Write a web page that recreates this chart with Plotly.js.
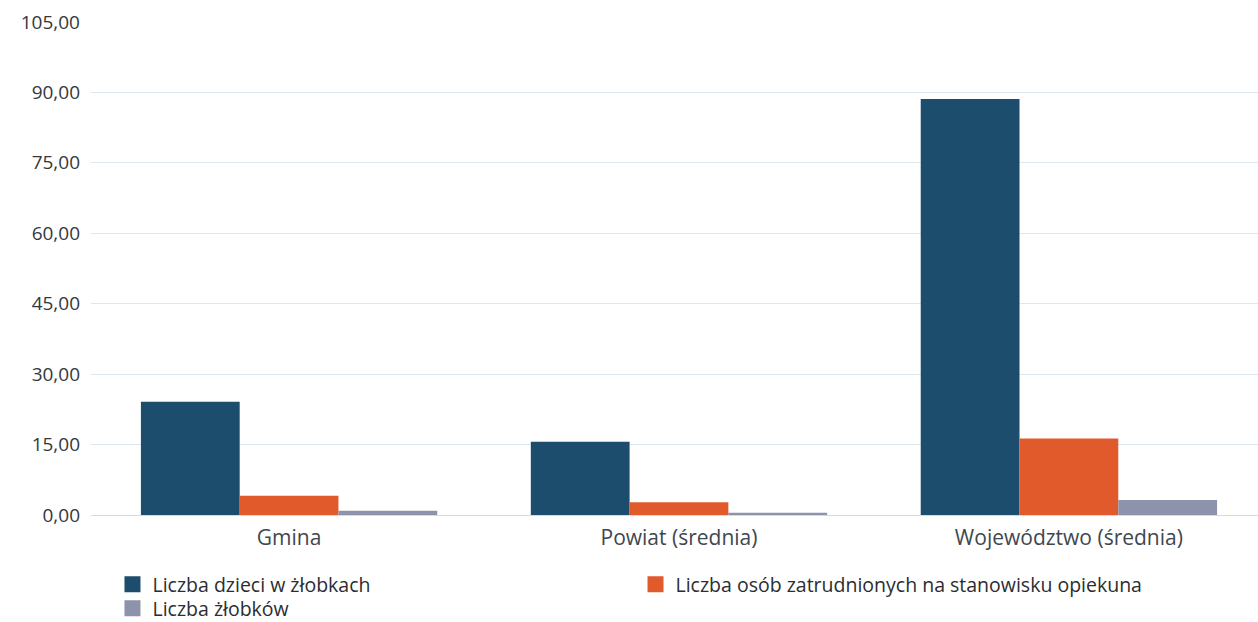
<!DOCTYPE html>
<html>
<head>
<meta charset="utf-8">
<script src="https://cdn.plot.ly/plotly-3.0.1.min.js"></script>
<style>html,body{margin:0;padding:0;background:#fff;}#chart{width:1258px;height:622px;}</style>
</head>
<body>
<div id="chart"></div>
<script>
const categories = ["Gmina", "Powiat (średnia)", "Województwo (średnia)"];
const seriesNames = [
  "Liczba dzieci w żłobkach",
  "Liczba osób zatrudnionych na stanowisku opiekuna",
  "Liczba żłobków"
];
const dzieci = [24.1, 15.6, 88.6];
const opiekunowie = [4.1, 2.7, 16.3];
const zlobki = [0.9, 0.5, 3.2];
const yTicks = [0, 15, 30, 45, 60, 75, 90, 105];

const colors = ["#1c4d6c", "#e15a2c", "#8d93aa"];
const font = "'Open Sans', 'Noto Sans', sans-serif";
const legFont = {family: font, size: 19.5, color: "#2a2d31"};
const legendIds = ["legend", "legend2", "legend3"];
const values = [dzieci, opiekunowie, zlobki];

const traces = [];
values.forEach((vals, i) => {
  traces.push({type: "bar", x: categories, y: vals, name: seriesNames[i],
    marker: {color: colors[i]}, showlegend: false});
});
// legend entries with larger square swatches
values.forEach((vals, i) => {
  traces.push({type: "scatter", mode: "markers", x: [null], y: [null], name: seriesNames[i],
    marker: {color: colors[i], symbol: "square", size: 16}, legend: legendIds[i], showlegend: true});
});

function leg(x, y) {
  return {orientation: "v", x: x, xanchor: "left", y: y, yanchor: "middle",
    font: legFont, bgcolor: "rgba(0,0,0,0)", itemclick: false, itemsizing: "trace"};
}

const layout = {
  width: 1258, height: 622,
  margin: {l: 91, r: 0, t: 21, b: 107, autoexpand: false},
  paper_bgcolor: "#ffffff", plot_bgcolor: "#ffffff",
  separators: ", ",
  font: {family: font, color: "#34383d", size: 19},
  barmode: "group", bargap: 0.24, bargroupgap: 0,
  hovermode: false,
  xaxis: {
    type: "category", range: [-0.508, 2.485],
    showgrid: false, showline: false, zeroline: false,
    ticks: "", ticklabelstandoff: 8,
    tickfont: {family: font, size: 21, color: "#404750"}
  },
  yaxis: {
    range: [0, 105.2], tickvals: yTicks, tickformat: ".2f",
    showgrid: true, gridcolor: "#dde7f0", gridwidth: 1,
    zeroline: true, zerolinecolor: "#cfdbe6", zerolinewidth: 1,
    showline: false, ticks: "", ticklabelstandoff: 10,
    tickfont: {family: font, size: 19, color: "#34383d"}
  },
  legend: leg(0.0184, -0.1407),
  legend2: leg(0.4666, -0.1407),
  legend3: leg(0.0184, -0.1893),
  showlegend: true
};

Plotly.newPlot("chart", traces, layout, {displayModeBar: false, staticPlot: true});
</script>
</body>
</html>
